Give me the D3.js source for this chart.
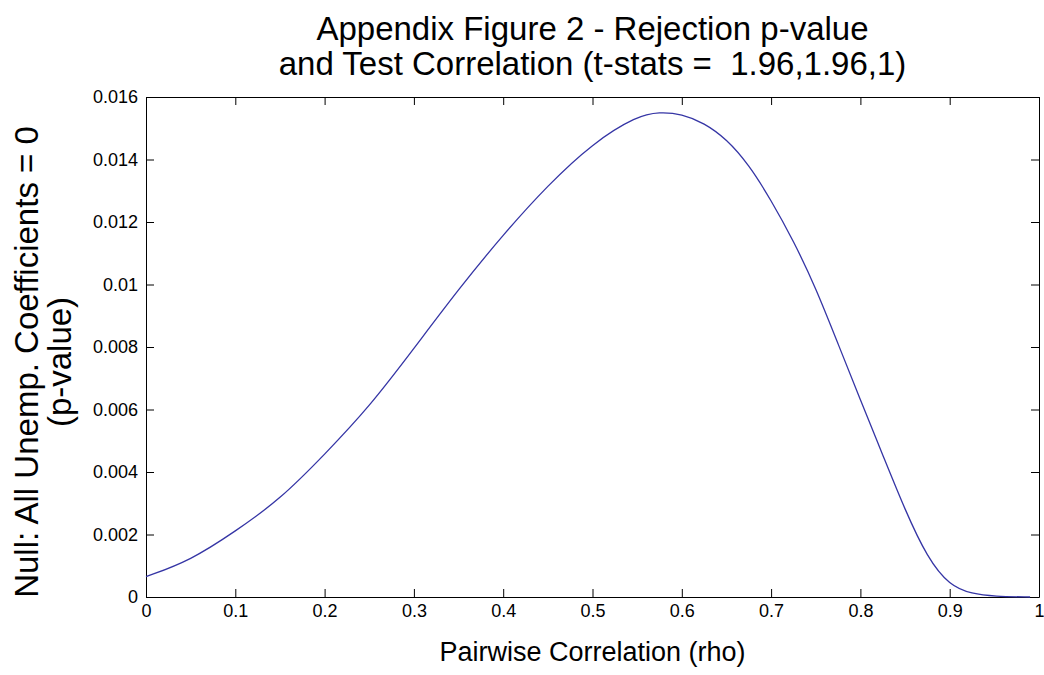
<!DOCTYPE html>
<html lang="en">
<head>
<meta charset="utf-8">
<title>Appendix Figure 2</title>
<script src="https://d3js.org/d3.v7.min.js"></script>
<style>
  body { margin: 0; background: #fff; }
  text { font-family: "Liberation Sans", Arial, sans-serif; fill: #000; white-space: pre; }
  .axis path, .axis line { stroke: #000; }
</style>
</head>
<body>
<script>
// values
var rho  = [0, 0.05, 0.10, 0.15, 0.20, 0.25, 0.30, 0.35, 0.40, 0.45, 0.50, 0.55, 0.575, 0.60, 0.625, 0.65, 0.675, 0.70, 0.725, 0.75, 0.775, 0.80, 0.825, 0.85, 0.875, 0.90, 0.925, 0.95, 0.99];
var pval = [0.00065, 0.00117, 0.0021, 0.00312, 0.00456, 0.00608, 0.00795, 0.00985, 0.0116, 0.01318, 0.01452, 0.0154, 0.01552, 0.01546, 0.01517, 0.01466, 0.01384, 0.0127, 0.0114, 0.0099, 0.0081, 0.0063, 0.00455, 0.00278, 0.00125, 0.00036, 0.0001, 0.00002, 0.0];
var xTicks = [0, 0.1, 0.2, 0.3, 0.4, 0.5, 0.6, 0.7, 0.8, 0.9, 1];
var yTicks = [0, 0.002, 0.004, 0.006, 0.008, 0.01, 0.012, 0.014, 0.016];
var titleLines = ["Appendix Figure 2 - Rejection p-value", "and Test Correlation (t-stats =  1.96,1.96,1)"];
var yLabelLines = ["Null: All Unemp. Coefficients = 0", "(p-value)"];
var xLabel = "Pairwise Correlation (rho)";

var w = 1044, h = 675;
var margin = {top: 97, right: 5, bottom: 78, left: 146};
var innerWidth = w - margin.left - margin.right;
var innerHeight = h - margin.top - margin.bottom;

var xScale = d3.scaleLinear().domain([0, 1]).range([0, innerWidth]);
var yScale = d3.scaleLinear().domain([0, 0.016]).range([innerHeight, 0]);

var svg = d3.select("body").append("svg")
    .attr("width", w)
    .attr("height", h);

var g = svg.append("g")
    .attr("transform", `translate(${margin.left},${margin.top})`);

// tick label format like matlab: 0, 0.002 ... 0.01
var fmt = function(d) { return d === 0 ? "0" : String(+d.toFixed(3)); };
var fmtX = function(d) { return d === 0 ? "0" : String(+d.toFixed(1)); };

// bottom axis
var xAxis = g.append("g")
    .attr("class", "axis")
    .attr("transform", `translate(0,${innerHeight})`)
    .call(d3.axisBottom(xScale).tickValues(xTicks).tickFormat(fmtX).tickSizeInner(-8).tickSizeOuter(0).tickPadding(7));

// top axis, ticks only
g.append("g")
    .attr("class", "axis")
    .call(d3.axisTop(xScale).tickValues(xTicks).tickFormat("").tickSizeInner(-8).tickSizeOuter(0));

// left axis
var yAxis = g.append("g")
    .attr("class", "axis")
    .call(d3.axisLeft(yScale).tickValues(yTicks).tickFormat(fmt).tickSizeInner(-8).tickSizeOuter(0).tickPadding(8));

// right axis, ticks only
g.append("g")
    .attr("class", "axis")
    .attr("transform", `translate(${innerWidth},0)`)
    .call(d3.axisRight(yScale).tickValues(yTicks).tickFormat("").tickSizeInner(-8).tickSizeOuter(0));

g.selectAll(".axis").attr("font-family", null).attr("font-size", null);
g.selectAll(".axis text").style("font-size", "18px");

// the curve
var data = rho.map(function(r, i) { return {x: r, y: pval[i]}; });
var line = d3.line()
    .x(function(d) { return xScale(d.x); })
    .y(function(d) { return yScale(d.y); })
    .curve(d3.curveBasis);

g.append("path")
    .datum(data)
    .attr("fill", "none")
    .attr("stroke", "#3535a5")
    .attr("stroke-width", 1.3)
    .attr("d", line);

// title
svg.append("g").selectAll("text")
    .data(titleLines)
    .enter()
    .append("text")
    .attr("x", margin.left + innerWidth / 2)
    .attr("y", function(d, i) { return 40 + i * 35; })
    .attr("text-anchor", "middle")
    .style("font-size", "33px")
    .text(function(d) { return d; });

// x label
svg.append("text")
    .attr("x", margin.left + innerWidth / 2)
    .attr("y", 661)
    .attr("text-anchor", "middle")
    .style("font-size", "27px")
    .text(xLabel);

// y label
svg.append("g").selectAll("text")
    .data(yLabelLines)
    .enter()
    .append("text")
    .attr("transform", function(d, i) { return `translate(${38 + i * 33},362) rotate(-90)`; })
    .attr("text-anchor", "middle")
    .style("font-size", "33px")
    .text(function(d) { return d; });
</script>
</body>
</html>
